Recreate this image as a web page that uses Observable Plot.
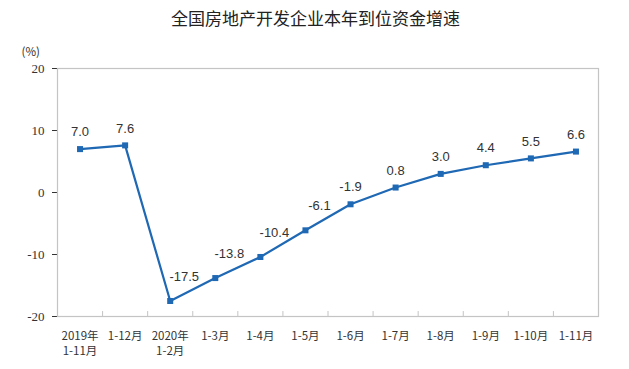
<!DOCTYPE html>
<html><head><meta charset="utf-8">
<script src="https://cdn.jsdelivr.net/npm/d3@7"></script>
<script src="https://cdn.jsdelivr.net/npm/@observablehq/plot@0.6"></script>
<style>
body{margin:0;background:#fff;width:629px;height:369px;overflow:hidden;font-family:"Noto Sans CJK SC",sans-serif;}
#title{height:35px;line-height:36px;text-align:center;font-size:17px;color:#222;padding-left:2px;}
</style></head>
<body>
<div id="title">全国房地产开发企业本年到位资金增速</div>
<div id="chart"></div>
<script>
const categories = ["2019年\n1-11月","1-12月","2020年\n1-2月","1-3月","1-4月","1-5月","1-6月","1-7月","1-8月","1-9月","1-10月","1-11月"];
const values = [7.0, 7.6, -17.5, -13.8, -10.4, -6.1, -1.9, 0.8, 3.0, 4.4, 5.5, 6.6];
const yTicks = [-20, -10, 0, 10, 20];

const data = categories.map((c, i) => ({i, c, v: values[i]}));
const boundaries = d3.range(categories.length - 1).map(i => i + 0.5);
const rising = d => d.i >= 2 && d.i <= 5;
const color = "#1f68b4";

const plot = Plot.plot({
  width: 629,
  height: 334,
  marginLeft: 57,
  marginRight: 31,
  marginTop: 33,
  marginBottom: 53,
  style: {fontFamily: "Liberation Serif, serif", fontSize: "13px", color: "#333", background: "#fff", overflow: "visible"},
  x: {type: "linear", domain: [-0.5, categories.length - 0.5], axis: null},
  y: {domain: [-20, 20], ticks: yTicks, tickSize: 5, tickPadding: 8, label: null, tickFormat: d => String(d)},
  marks: [
    Plot.frame({stroke: "#c4c4c4", strokeWidth: 1.2}),
    Plot.ruleX(boundaries, {x: d => d, y1: -20, y2: -19.2, stroke: "#c4c4c4", strokeWidth: 1}),
    Plot.line(data, {x: "i", y: "v", stroke: color, strokeWidth: 2.2}),
    Plot.dot(data, {x: "i", y: "v", symbol: "square", r: 3.4, fill: color, stroke: "none"}),
    Plot.text(data.filter(d => !rising(d)), {x: "i", y: "v", text: d => d.v.toFixed(1), dy: -17, fontFamily: "Liberation Sans, Arial, sans-serif", fontSize: 13, fill: "#333"}),
    Plot.text(data.filter(rising), {x: "i", y: "v", text: d => d.v.toFixed(1), dx: 14, dy: -24, fontFamily: "Liberation Sans, Arial, sans-serif", fontSize: 13, fill: "#333"}),
    Plot.text(data, {x: "i", y: -20, text: "c", dy: 12, lineAnchor: "top", lineHeight: 1.35, fontFamily: "Noto Sans CJK SC, sans-serif", fontSize: 11.5, fill: "#333"}),
    Plot.text(["(%)"], {frameAnchor: "top-left", dx: -36, dy: -21, text: d => d, fontFamily: "Noto Sans CJK SC, sans-serif", fontSize: 11.5, fill: "#333"})
  ]
});
document.getElementById("chart").appendChild(plot);
</script>
</body></html>
